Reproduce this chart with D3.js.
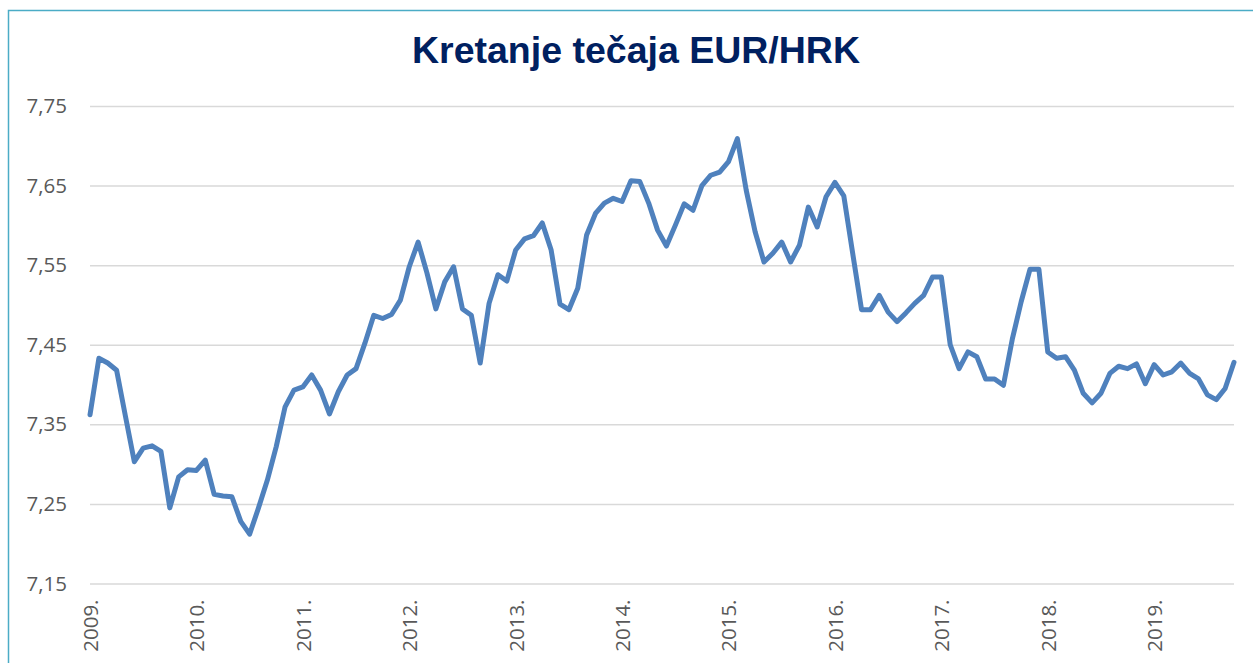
<!DOCTYPE html>
<html>
<head>
<meta charset="utf-8">
<script src="https://cdn.jsdelivr.net/npm/d3@7"></script>
<style>
  body { margin: 0; background: #fff; }
  svg { display: block; }
</style>
</head>
<body>
<div id="chart"></div>
<script>
// mjesecni tecaj EUR/HRK, sijecanj 2009. - listopad 2019.
const tecaj = [
  7.362, 7.433, 7.427, 7.418, 7.360, 7.303, 7.320, 7.323, 7.316, 7.245, 7.284, 7.293,
  7.292, 7.305, 7.262, 7.260, 7.259, 7.228, 7.212, 7.245, 7.280, 7.322, 7.372, 7.393,
  7.397, 7.412, 7.393, 7.363, 7.391, 7.412, 7.420, 7.452, 7.487, 7.483, 7.488, 7.506,
  7.548, 7.579, 7.540, 7.495, 7.529, 7.548, 7.495, 7.487, 7.427, 7.502, 7.538, 7.530,
  7.569, 7.583, 7.587, 7.603, 7.569, 7.501, 7.494, 7.521, 7.588, 7.615, 7.628, 7.634,
  7.630, 7.656, 7.655, 7.628, 7.594, 7.574, 7.600, 7.627, 7.619, 7.650, 7.663, 7.667,
  7.680, 7.709, 7.644, 7.592, 7.554, 7.565, 7.579, 7.554, 7.575, 7.623, 7.598, 7.636,
  7.654, 7.637, 7.565, 7.494, 7.494, 7.512, 7.491, 7.479, 7.490, 7.502, 7.512, 7.535,
  7.535, 7.450, 7.420, 7.441, 7.435, 7.407, 7.407, 7.399, 7.457, 7.504, 7.545, 7.545,
  7.441, 7.433, 7.435, 7.418, 7.389, 7.377, 7.389, 7.414, 7.423, 7.420, 7.426, 7.401,
  7.425, 7.412, 7.416, 7.427, 7.414, 7.407, 7.387, 7.381, 7.395, 7.428
];

const godine = ["2009.", "2010.", "2011.", "2012.", "2013.", "2014.", "2015.", "2016.", "2017.", "2018.", "2019."];

const yTicks = [7.15, 7.25, 7.35, 7.45, 7.55, 7.65, 7.75];

const naslov = "Kretanje tečaja EUR/HRK";

const w = 1253, h = 663;

let svg = d3.select("#chart")
  .append("svg")
  .attr("width", w)
  .attr("height", h);

// okvir (vidi se samo lijevi i gornji rub)
svg.append("rect")
  .attr("x", 8.5).attr("y", 10.5)
  .attr("width", 1300).attr("height", 700)
  .attr("fill", "none")
  .attr("stroke", "#4bacc6")
  .attr("stroke-width", 1.5);

let xScale = d3.scaleLinear()
  .domain([0, tecaj.length - 1])
  .range([90, 1234]);

let yScale = d3.scaleLinear()
  .domain([7.15, 7.75])
  .range([583.5, 106]);

// naslov
svg.append("text")
  .attr("x", 636).attr("y", 63)
  .attr("text-anchor", "middle")
  .attr("font-family", "Liberation Sans, Arial, sans-serif")
  .attr("font-weight", "bold")
  .attr("font-size", 37.5)
  .attr("fill", "#002060")
  .text(naslov);

// y os s mreznim linijama
let y_axis = d3.axisLeft(yScale)
  .tickValues(yTicks)
  .tickSize(-(1234 - 90))
  .tickPadding(23)
  .tickFormat(d => d3.format(".2f")(d).replace(".", ","));

let gy = svg.append("g")
  .attr("transform", "translate(90,0)")
  .call(y_axis);
gy.select(".domain").remove();
gy.selectAll(".tick line").attr("stroke", "#d9d9d9").attr("stroke-width", 1.5);
gy.selectAll(".tick text")
  .attr("fill", "#595959")
  .attr("font-family", "Open Sans, sans-serif")
  .attr("font-size", 20.5);

// x os - godine
let x_axis = d3.axisBottom(xScale)
  .tickValues(godine.map((g, i) => i * 12))
  .tickSize(0)
  .tickFormat((d, i) => godine[i]);

let gx = svg.append("g")
  .attr("transform", "translate(0,583.5)")
  .call(x_axis);
gx.select(".domain").remove();
gx.selectAll(".tick text")
  .attr("fill", "#595959")
  .attr("font-family", "Open Sans, sans-serif")
  .attr("font-size", 20.5)
  .attr("text-anchor", "end")
  .attr("transform", "rotate(-90)")
  .attr("x", -16)
  .attr("y", 0)
  .attr("dy", "0.36em");

// linija tecaja
let line = d3.line()
  .x((d, i) => xScale(i))
  .y(d => yScale(d));

svg.append("path")
  .datum(tecaj)
  .attr("d", line)
  .attr("fill", "none")
  .attr("stroke", "#4f81bd")
  .attr("stroke-width", 5)
  .attr("stroke-linejoin", "round")
  .attr("stroke-linecap", "round");
</script>
</body>
</html>
